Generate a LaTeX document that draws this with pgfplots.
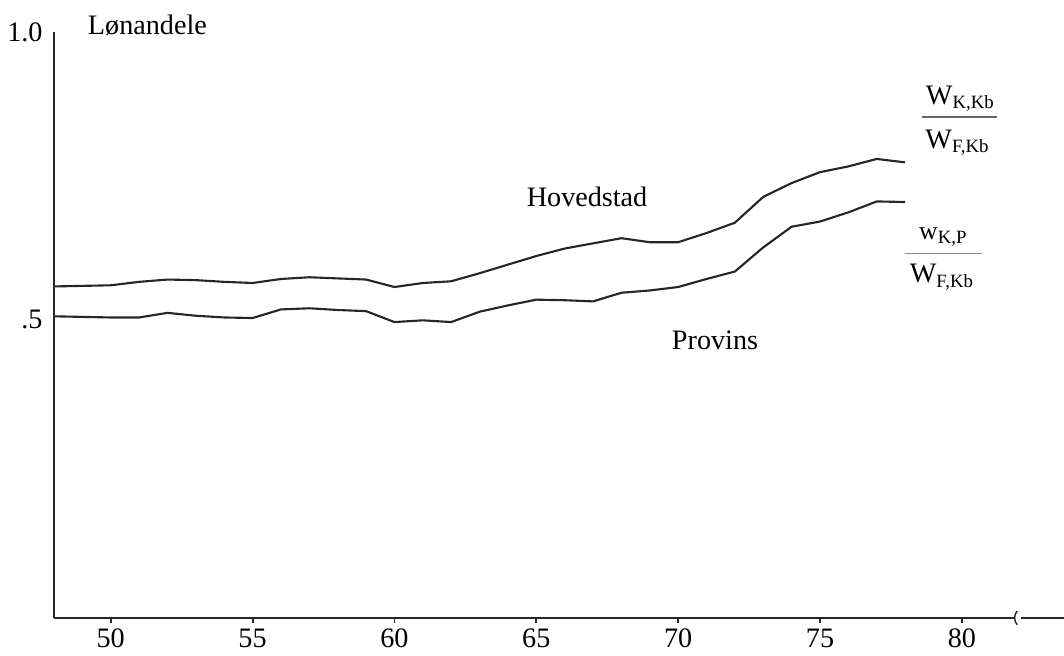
\documentclass[border=0pt,12pt]{standalone}
\usepackage{pgfplots}
\pgfplotsset{compat=1.18}
\usepackage{fontspec}
\setmainfont{Liberation Serif}
\pgfplotstableread{
year hoved provins
48 0.557 0.505
49 0.558 0.504
50 0.559 0.503
51 0.565 0.503
52 0.569 0.511
53 0.568 0.506
54 0.565 0.503
55 0.563 0.502
56 0.570 0.517
57 0.573 0.519
58 0.571 0.516
59 0.569 0.514
60 0.556 0.495
61 0.563 0.498
62 0.566 0.495
63 0.580 0.513
64 0.595 0.524
65 0.610 0.534
66 0.623 0.533
67 0.632 0.531
68 0.641 0.546
69 0.634 0.550
70 0.634 0.556
71 0.650 0.570
72 0.668 0.583
73 0.713 0.625
74 0.737 0.661
75 0.756 0.670
76 0.766 0.686
77 0.779 0.705
78 0.773 0.704
}\data
\begin{document}
\begin{tikzpicture}
\path[use as bounding box] (-23.0pt,-16.19pt) rectangle (430.3pt,263.23pt);
\begin{axis}[name=ax, at={(0,0)}, anchor=south west,
  scale only axis, width=430.3pt, height=249.6pt,
  xmin=48, xmax=83.6, ymin=-0.02, ymax=1.0,
  axis lines=left, axis line style={-, line width=0.9pt, black!85},
  xtick={50,55,...,80}, ytick={0.5,1.0}, yticklabels={.5,1.0},
  tick align=outside, major tick length=2.2pt,
  x tick style={line width=0.8pt, black!85},
  y tick style={draw=none},
  xticklabel style={yshift=-1.2pt, inner sep=1pt},
  yticklabel style={xshift=1.5pt},
  /pgf/number format/assume math mode=true,
  clip=false]
\addplot[black!85, line width=0.9pt] table[x=year, y=hoved] {\data};
\addplot[black!85, line width=0.9pt] table[x=year, y=provins] {\data};
\node[anchor=west] at (axis cs:48.85,1.012) {Lønandele};
\node at (axis cs:66.79,0.713) {Hovedstad};
\node at (axis cs:71.3,0.464) {Provins};
% upper fraction
\node at (axis cs:79.95,0.884) {W\textsubscript{K,Kb}};
\draw[black!60, line width=0.6pt] (axis cs:78.6,0.852) -- (axis cs:81.24,0.852);
\node at (axis cs:79.85,0.807) {W\textsubscript{F,Kb}};
% lower fraction
\node at (axis cs:79.35,0.643) {\small w\textsubscript{K,P}};
\draw[black!45, line width=0.4pt] (axis cs:78.0,0.615) -- (axis cs:80.7,0.615);
\node at (axis cs:79.3,0.573) {W\textsubscript{F,Kb}};
% axis break mark
\draw[white, line width=2pt] (axis cs:81.85,-0.02) -- (axis cs:82.1,-0.02);
\draw[black!85, line width=0.6pt] (axis cs:81.95,-0.008) to[bend right=40] (axis cs:81.95,-0.032);
\end{axis}
\end{tikzpicture}
\end{document}
